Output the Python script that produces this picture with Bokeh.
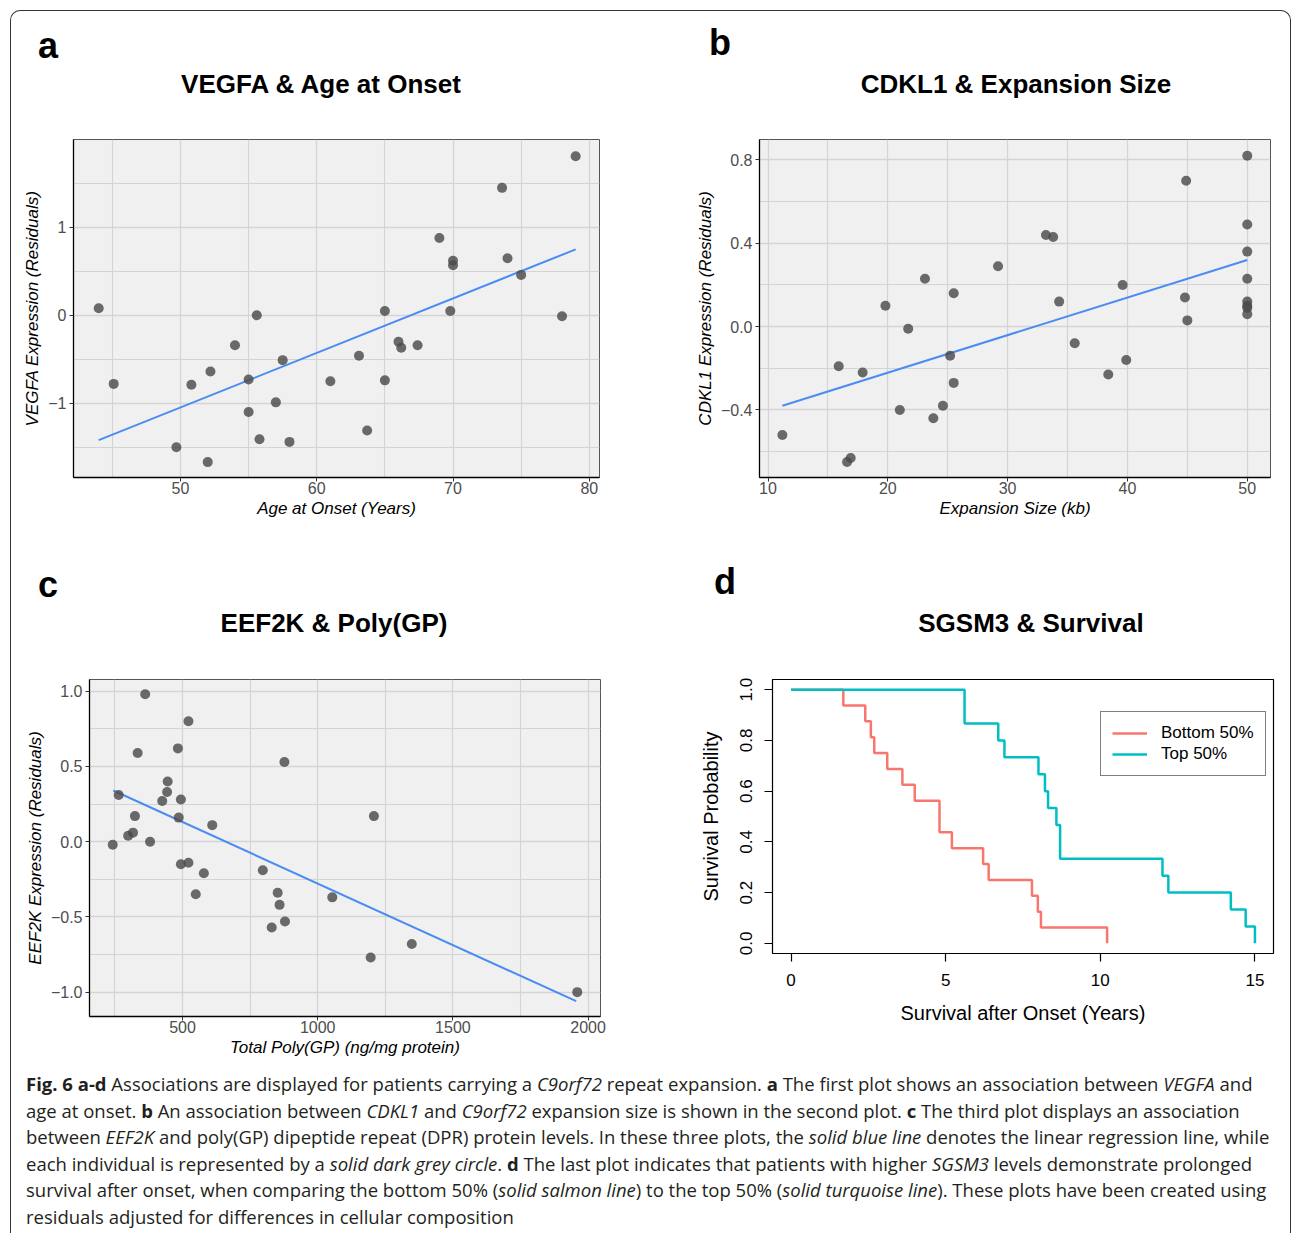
from bokeh.plotting import figure
from bokeh.models import Range1d, FixedTicker, Legend, LegendItem, Div
from bokeh.layouts import row, column
from bokeh.embed import file_html
from bokeh.resources import INLINE

FONT = "Liberation Sans"

# ---------------- Panel a: VEGFA & Age at Onset ----------------
a_age = [44.0, 45.1, 49.7, 50.8, 52.0, 52.2, 54.0, 55.0, 55.0, 55.6, 55.8, 57.0, 57.5, 58.0,
         61.0, 63.1, 63.7, 65.0, 65.0, 66.0, 66.2, 67.4, 69.0, 70.0, 70.0, 69.8, 73.6, 74.0,
         75.0, 78.0, 79.0]
a_vegfa = [0.08, -0.78, -1.50, -0.79, -1.67, -0.64, -0.34, -0.73, -1.10, 0.00, -1.41, -0.99,
           -0.51, -1.44, -0.75, -0.46, -1.31, 0.05, -0.74, -0.30, -0.37, -0.34, 0.88, 0.62,
           0.57, 0.05, 1.45, 0.65, 0.46, -0.01, 1.81]
a_fit_x = [44.0, 79.0]
a_fit_y = [-1.42, 0.75]
a_xticks = [50, 60, 70, 80]
a_xlabels = ["50", "60", "70", "80"]
a_xminor = [45, 55, 65, 75]
a_yticks = [-1, 0, 1]
a_ylabels = ["\u22121", "0", "1"]
a_yminor = [-1.5, -0.5, 0.5, 1.5]

# ---------------- Panel b: CDKL1 & Expansion Size ----------------
b_size = [11.2, 15.9, 16.6, 16.9, 17.9, 19.8, 21.0, 21.7, 23.1, 23.8, 24.6, 25.2, 25.5, 25.5,
          29.2, 33.2, 33.8, 34.3, 35.6, 38.4, 39.6, 39.9, 44.8, 44.9, 45.0,
          50, 50, 50, 50, 50, 50, 50, 50]
b_cdkl1 = [-0.52, -0.19, -0.65, -0.63, -0.22, 0.10, -0.40, -0.01, 0.23, -0.44, -0.38, -0.14,
           0.16, -0.27, 0.29, 0.44, 0.43, 0.12, -0.08, -0.23, 0.20, -0.16, 0.14, 0.70, 0.03,
           0.82, 0.49, 0.36, 0.23, 0.12, 0.10, 0.09, 0.06]
b_fit_x = [11.2, 50.0]
b_fit_y = [-0.38, 0.32]
b_xticks = [10, 20, 30, 40, 50]
b_xlabels = ["10", "20", "30", "40", "50"]
b_xminor = [15, 25, 35, 45]
b_yticks = [-0.4, 0.0, 0.4, 0.8]
b_ylabels = ["\u22120.4", "0.0", "0.4", "0.8"]
b_yminor = [-0.6, -0.2, 0.2, 0.6]

# ---------------- Panel c: EEF2K & Poly(GP) ----------------
c_polygp = [242, 264, 299, 317, 324, 334, 362, 380, 425, 443, 445, 483, 486, 494, 494, 522,
            522, 549, 579, 610, 797, 830, 852, 859, 877, 879, 1054, 1196, 1208, 1348, 1960]
c_eef2k = [-0.02, 0.31, 0.04, 0.06, 0.17, 0.59, 0.98, 0.00, 0.27, 0.33, 0.40, 0.62, 0.16,
           0.28, -0.15, 0.80, -0.14, -0.35, -0.21, 0.11, -0.19, -0.57, -0.34, -0.42, 0.53,
           -0.53, -0.37, -0.77, 0.17, -0.68, -1.00]
c_fit_x = [244, 1956]
c_fit_y = [0.34, -1.06]
c_xticks = [500, 1000, 1500, 2000]
c_xlabels = ["500", "1000", "1500", "2000"]
c_xminor = [250, 750, 1250, 1750]
c_yticks = [-1.0, -0.5, 0.0, 0.5, 1.0]
c_ylabels = ["\u22121.0", "\u22120.5", "0.0", "0.5", "1.0"]
c_yminor = [-0.75, -0.25, 0.25, 0.75]

# ---------------- Panel d: SGSM3 & Survival (Kaplan-Meier) ----------------
d_bottom_t = [0, 1.69, 2.40, 2.58, 2.69, 3.11, 3.60, 4.00, 4.80, 5.20, 6.21, 6.39, 7.79, 7.98,
              8.08, 10.22]
d_bottom_s = [1.0, 0.9375, 0.875, 0.8125, 0.75, 0.6875, 0.625, 0.5625, 0.4375, 0.375, 0.3125,
              0.25, 0.1875, 0.125, 0.0625, 0.0]
d_top_t = [0, 5.61, 6.70, 6.90, 8.00, 8.21, 8.31, 8.58, 8.70, 12.01, 12.20, 14.22, 14.70, 15.00]
d_top_s = [1.0, 0.8667, 0.8, 0.7333, 0.6667, 0.6, 0.5333, 0.4667, 0.3333, 0.2667, 0.2, 0.1333,
           0.0667, 0.0]
d_xticks = [0, 5, 10, 15]
d_xlabels = ["0", "5", "10", "15"]
d_yticks = [0.0, 0.2, 0.4, 0.6, 0.8, 1.0]
d_ylabels = ["0.0", "0.2", "0.4", "0.6", "0.8", "1.0"]
d_legend = ["Bottom 50%", "Top 50%"]

panel_letters = ["a", "b", "c", "d"]
panel_titles = ["VEGFA &amp; Age at Onset", "CDKL1 &amp; Expansion Size",
                "EEF2K &amp; Poly(GP)", "SGSM3 &amp; Survival"]

caption_lines = [
    "<b>Fig. 6 a-d</b> Associations are displayed for patients carrying a <i>C9orf72</i> repeat expansion. <b>a</b> The first plot shows an association between <i>VEGFA</i> and",
    "age at onset. <b>b</b> An association between <i>CDKL1</i> and <i>C9orf72</i> expansion size is shown in the second plot. <b>c</b> The third plot displays an association",
    "between <i>EEF2K</i> and poly(GP) dipeptide repeat (DPR) protein levels. In these three plots, the <i>solid blue line</i> denotes the linear regression line, while",
    "each individual is represented by a <i>solid dark grey circle</i>. <b>d</b> The last plot indicates that patients with higher <i>SGSM3</i> levels demonstrate prolonged",
    "survival after onset, when comparing the bottom 50% (<i>solid salmon line</i>) to the top 50% (<i>solid turquoise line</i>). These plots have been created using",
    "residuals adjusted for differences in cellular composition",
]


def header(letter, title, width, height, letter_left, letter_top, title_center, title_top):
    html = (
        f'<div style="position:relative;width:{width}px;height:{height}px;'
        f'font-family:\'{FONT}\',sans-serif;color:black;">'
        f'<div style="position:absolute;left:{letter_left}px;top:{letter_top}px;'
        f'font-size:36px;line-height:36px;font-weight:bold;white-space:nowrap;">{letter}</div>'
        f'<div style="position:absolute;left:{title_center - 300}px;top:{title_top}px;width:600px;'
        f'text-align:center;font-size:26px;line-height:26px;font-weight:bold;white-space:nowrap;">'
        f'{title}</div></div>'
    )
    return Div(text=html, width=width, height=height, margin=(0, 0, 0, 0))


def gg_panel(xr, yr, fw, fh, borders, xt, xl, xm, yt, yl, ym, xlabel, ylabel):
    left, right, top, bottom = borders
    p = figure(frame_width=fw, frame_height=fh, x_range=Range1d(*xr), y_range=Range1d(*yr),
               output_backend="svg", toolbar_location=None,
               min_border_left=left, min_border_right=right,
               min_border_top=top, min_border_bottom=bottom)
    p.background_fill_color = "#f0f0f0"
    p.border_fill_color = "white"
    p.outline_line_color = "#555555"
    p.outline_line_width = 1
    p.xaxis.ticker = FixedTicker(ticks=xt, minor_ticks=xm)
    p.yaxis.ticker = FixedTicker(ticks=yt, minor_ticks=ym)
    p.xaxis.major_label_overrides = dict(zip(xt, xl))
    p.yaxis.major_label_overrides = dict(zip(yt, yl))
    for g in (p.xgrid, p.ygrid):
        g.grid_line_color = "#d4d4d4"
        g.grid_line_width = 1.3
        g.minor_grid_line_color = "#d4d4d4"
        g.minor_grid_line_width = 1.1
    for ax in (p.xaxis, p.yaxis):
        ax.axis_line_color = "black"
        ax.axis_line_width = 1.3
        ax.major_tick_line_color = "#333333"
        ax.major_tick_out = 4
        ax.major_tick_in = 0
        ax.minor_tick_line_color = None
        ax.major_label_text_font = FONT
        ax.major_label_text_font_size = "16px"
        ax.major_label_text_color = "#4d4d4d"
        ax.axis_label_text_font = FONT
        ax.axis_label_text_font_size = "17px"
        ax.axis_label_text_font_style = "italic"
        ax.axis_label_text_color = "black"
    p.xaxis.major_label_standoff = 0
    p.xaxis.axis_label_standoff = 2
    p.yaxis.major_label_standoff = 3
    p.yaxis.axis_label_standoff = 3
    p.xaxis.axis_label = xlabel
    p.yaxis.axis_label = ylabel
    return p


POINT = "#4a4a4a"
BLUE = "#4a8cf2"

# panel a
pa = gg_panel((42.15, 80.75), (-1.845, 2.0), 526, 338, (62, 90, 28, 70),
              a_xticks, a_xlabels, a_xminor, a_yticks, a_ylabels, a_yminor,
              "Age at Onset (Years)", "VEGFA Expression (Residuals)")
pa.line(a_fit_x, a_fit_y, line_color=BLUE, line_width=2)
pa.scatter(a_age, a_vegfa, size=10, fill_color=POINT, fill_alpha=0.82, line_color=None)
ha = header(panel_letters[0], panel_titles[0], 678, 100, 27, 17, 310, 60)

# panel b
pb = gg_panel((9.29, 51.94), (-0.724, 0.898), 511, 338, (70, 20, 28, 70),
              b_xticks, b_xlabels, b_xminor, b_yticks, b_ylabels, b_yminor,
              "Expansion Size (kb)", "CDKL1 Expression (Residuals)")
pb.line(b_fit_x, b_fit_y, line_color=BLUE, line_width=2)
pb.scatter(b_size, b_cdkl1, size=10, fill_color=POINT, fill_alpha=0.82, line_color=None)
hb = header(panel_letters[1], panel_titles[1], 601, 100, 20, 14, 327, 60)

# panel c
pc = gg_panel((156, 2046), (-1.162, 1.078), 511, 337, (78, 89, 28, 49),
              c_xticks, c_xlabels, c_xminor, c_yticks, c_ylabels, c_yminor,
              "Total Poly(GP) (ng/mg protein)", "EEF2K Expression (Residuals)")
pc.line(c_fit_x, c_fit_y, line_color=BLUE, line_width=2)
pc.scatter(c_polygp, c_eef2k, size=10, fill_color=POINT, fill_alpha=0.82, line_color=None)
hc = header(panel_letters[2], panel_titles[2], 678, 104, 27, 20, 323, 63)

# panel d
pd_ = figure(frame_width=501, frame_height=274, x_range=Range1d(-0.6, 15.6),
             y_range=Range1d(-0.04, 1.04), output_backend="svg", toolbar_location=None,
             min_border_left=83, min_border_right=17, min_border_top=28, min_border_bottom=112)
pd_.background_fill_color = "white"
pd_.border_fill_color = "white"
pd_.outline_line_color = "black"
pd_.outline_line_width = 1.2
pd_.xgrid.grid_line_color = None
pd_.ygrid.grid_line_color = None
pd_.xaxis.ticker = FixedTicker(ticks=d_xticks)
pd_.yaxis.ticker = FixedTicker(ticks=d_yticks)
pd_.xaxis.major_label_overrides = dict(zip(d_xticks, d_xlabels))
pd_.yaxis.major_label_overrides = dict(zip(d_yticks, d_ylabels))
for ax in (pd_.xaxis, pd_.yaxis):
    ax.axis_line_color = None
    ax.major_tick_line_color = "black"
    ax.major_tick_line_width = 1.2
    ax.major_tick_out = 8
    ax.major_tick_in = 0
    ax.minor_tick_line_color = None
    ax.major_label_text_font = FONT
    ax.major_label_text_font_size = "17px"
    ax.major_label_text_color = "black"
    ax.axis_label_text_font = FONT
    ax.axis_label_text_font_size = "20px"
    ax.axis_label_text_font_style = "normal"
    ax.axis_label_text_color = "black"
pd_.xaxis.major_label_standoff = 12
pd_.xaxis.axis_label_standoff = 13
pd_.yaxis.major_label_standoff = 12
pd_.yaxis.axis_label_standoff = 16
pd_.yaxis.major_label_orientation = "vertical"
pd_.xaxis.axis_label = "Survival after Onset (Years)"
pd_.yaxis.axis_label = "Survival Probability"
r_bot = pd_.step(d_bottom_t, d_bottom_s, mode="after", line_color="#F8766D", line_width=2.5)
r_top = pd_.step(d_top_t, d_top_s, mode="after", line_color="#00BFC4", line_width=2.5)
leg = Legend(items=[LegendItem(label=d_legend[0], renderers=[r_bot]),
                    LegendItem(label=d_legend[1], renderers=[r_top])],
             location=(328, 177), orientation="vertical")
leg.border_line_color = "black"
leg.border_line_width = 1.2
leg.background_fill_color = "white"
leg.background_fill_alpha = 1.0
leg.padding = 11
leg.spacing = 1
leg.margin = 0
leg.label_height = 20
leg.glyph_height = 20
leg.glyph_width = 35
leg.label_standoff = 14
leg.label_text_font = FONT
leg.label_text_font_size = "17px"
leg.label_text_color = "black"
pd_.add_layout(leg, "center")
hd = header(panel_letters[3], panel_titles[3], 601, 104, 25, 17, 342, 63)

caption_html = (
    '<div style="font-family:\'Open Sans\',sans-serif;font-size:18.5px;line-height:26.6px;'
    'color:#231f20;padding-left:15px;padding-top:6px;white-space:nowrap;">'
    + "<br>".join(caption_lines) + "</div>"
)
caption = Div(text=caption_html, width=1279, height=168, margin=(0, 0, 0, 0),
              styles={"overflow": "hidden"})

layout = column(
    row(column(ha, pa), column(hb, pb)),
    row(column(hc, pc), column(hd, pd_)),
    caption,
    margin=(10, 0, 0, 10),
    styles={"border-top": "1.5px solid #333", "border-left": "1.5px solid #333",
            "border-right": "1.5px solid #333",
            "border-top-left-radius": "10px", "border-top-right-radius": "10px"})

open("out.html", "w").write(file_html(layout, INLINE))
